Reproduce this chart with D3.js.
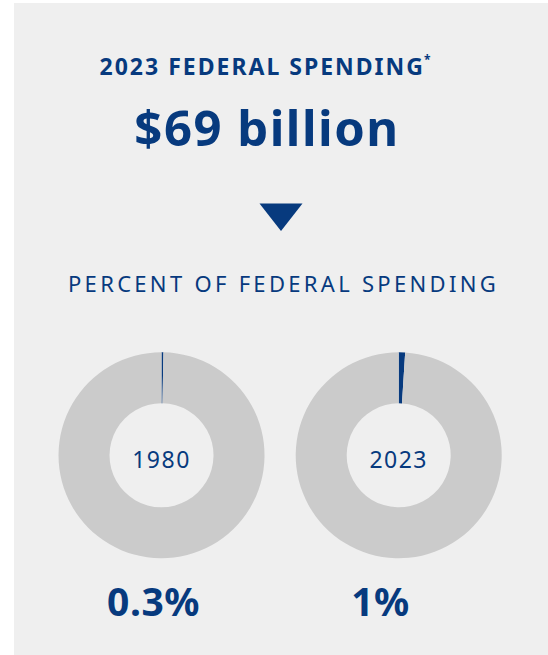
<!DOCTYPE html>
<html>
<head>
<meta charset="utf-8">
<script src="https://cdn.jsdelivr.net/npm/d3@7"></script>
<style>
  html, body { margin: 0; padding: 0; background: #ffffff; }
  svg { display: block; }
  text { font-family: "Noto Sans", "Open Sans", sans-serif; }
</style>
</head>
<body>
<svg id="chart" width="548" height="655"></svg>
<script>
// Values shown in the graphic
const headline = "2023 FEDERAL SPENDING";
const headlineNote = "*";
const spendingTotal = "$69 billion";
const sectionTitle = "PERCENT OF FEDERAL SPENDING";
const years = ["1980", "2023"];
const sharePercent = [0.3, 1];            // share of federal spending, %
const shareLabels = ["0.3%", "1%"];

const navy = "#073a7e";
const ringGrey = "#cbcbcb";
const panelGrey = "#efefef";

const svg = d3.select("#chart");

// Background panel
svg.append("rect")
  .attr("x", 14).attr("y", 3)
  .attr("width", 534).attr("height", 652)
  .attr("fill", panelGrey);

// Headline with footnote marker
const head = svg.append("text")
  .attr("x", 266).attr("y", 75)
  .attr("text-anchor", "middle")
  .attr("fill", navy)
  .attr("font-weight", 700)
  .attr("font-size", 23)
  .attr("letter-spacing", 2.0);
head.append("tspan").text(headline);
head.append("tspan")
  .attr("font-size", 12)
  .attr("dx", -1)
  .attr("dy", -11)
  .text(headlineNote);

// Total amount
svg.append("text")
  .attr("x", 267).attr("y", 146)
  .attr("text-anchor", "middle")
  .attr("fill", navy)
  .attr("font-weight", 700)
  .attr("font-size", 49)
  .attr("letter-spacing", 1.5)
  .text(spendingTotal);

// Down-pointing marker
const tri = d3.path();
tri.moveTo(259.5, 203.5);
tri.lineTo(302.5, 203.5);
tri.lineTo(281, 231);
tri.closePath();
svg.append("path")
  .attr("d", tri.toString())
  .attr("fill", navy);

// Section title
svg.append("text")
  .attr("x", 283.5).attr("y", 292)
  .attr("text-anchor", "middle")
  .attr("fill", navy)
  .attr("font-size", 22)
  .attr("letter-spacing", 3.3)
  .text(sectionTitle);

// Donuts, one per year
const cx = d3.scalePoint().domain(years).range([161.5, 398.7]);
const cy = 455.3;
const pie = d3.pie().sort(null).value(d => d.v);
const arc = d3.arc().innerRadius(52).outerRadius(103);

const labelX = d3.scaleOrdinal().domain(years).range([153.5, 380.5]);

years.forEach((yr, i) => {
  const g = svg.append("g").attr("transform", `translate(${cx(yr)},${cy})`);
  const parts = [
    { k: "share", v: sharePercent[i] },
    { k: "rest", v: 100 - sharePercent[i] }
  ];
  g.selectAll("path")
    .data(pie(parts))
    .join("path")
    .attr("d", arc)
    .attr("fill", d => d.data.k === "share" ? navy : ringGrey);

  g.append("text")
    .attr("y", 13)
    .attr("text-anchor", "middle")
    .attr("fill", navy)
    .attr("font-size", 23)
    .attr("letter-spacing", 1.5)
    .text(yr);

  svg.append("text")
    .attr("x", labelX(yr)).attr("y", 616)
    .attr("text-anchor", "middle")
    .attr("fill", navy)
    .attr("font-weight", 700)
    .attr("font-size", 39)
    .attr("letter-spacing", 0.5)
    .text(shareLabels[i]);
});
</script>
</body>
</html>
